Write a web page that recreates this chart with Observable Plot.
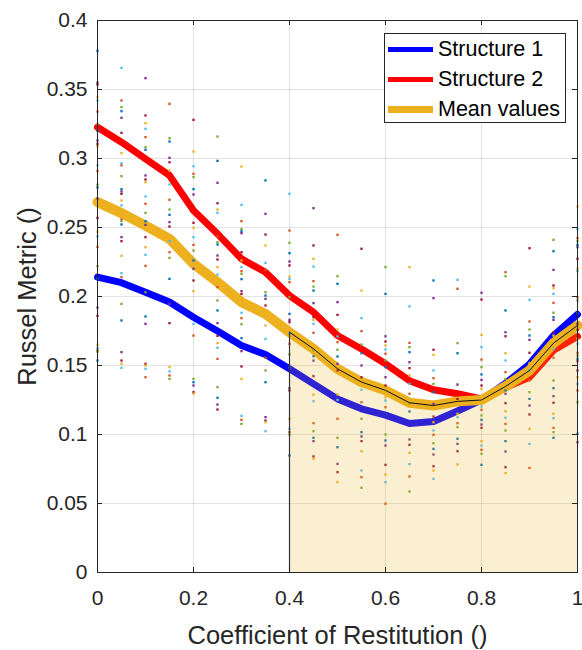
<!DOCTYPE html>
<html><head><meta charset="utf-8">
<script src="https://cdn.jsdelivr.net/npm/d3@7"></script>
<script src="https://cdn.jsdelivr.net/npm/@observablehq/plot@0.6"></script>
<style>
body{margin:0;background:#fff;font-family:"Liberation Sans",Arial,sans-serif;}
#wrap{position:relative;width:582px;height:650px;}
#legend{position:absolute;left:384px;top:33px;width:182px;height:90px;box-sizing:border-box;background:#fff;border:1px solid #262626;}
.row{position:absolute;left:3px;height:30px;line-height:30px;font-size:21.5px;color:#000;white-space:nowrap;display:flex;align-items:center;}
.sw{display:inline-block;width:45px;margin-right:5px;}
</style></head><body>
<div id="wrap"><div id="chart"></div><div id="legend"></div></div>
<script>
// ---- data ----
const xs = [0,0.05,0.1,0.15,0.2,0.25,0.3,0.35,0.4,0.45,0.5,0.55,0.6,0.65,0.7,0.75,0.8,0.85,0.9,0.95,1];
const struct1 = [0.214,0.210,0.203,0.196,0.185,0.175,0.1645,0.158,0.1476,0.1367,0.1258,0.1186,0.114,0.108,0.1094,0.117,0.125,0.137,0.151,0.1717,0.187];
const struct2 = [0.3227,0.3118,0.2998,0.2877,0.2623,0.2454,0.2273,0.2176,0.2007,0.1886,0.1717,0.162,0.1512,0.139,0.1324,0.1295,0.1258,0.134,0.1415,0.161,0.171];
const meanVals = [0.2684,0.2604,0.2514,0.2418,0.2237,0.2104,0.1959,0.1874,0.1741,0.1621,0.1476,0.138,0.132,0.123,0.121,0.124,0.125,0.1348,0.1464,0.1662,0.179];
const shadeStart = 0.4;
const seriesNames = ["Structure 1","Structure 2","Mean values"];
const xTicks = [0,0.2,0.4,0.6,0.8,1];
const yTicks = [0,0.05,0.1,0.15,0.2,0.25,0.3,0.35,0.4];
const xTitle = "Coefficient of Restitution ()";
const yTitle = "Russel Metric ()";

// scattered samples, one list per x column
const c00 = [0.378,0.355,0.3536,0.3444,0.342,0.334,0.325,0.320,0.313,0.3106,0.309,0.295,0.291,0.281,0.279,0.271,0.257,0.247,0.2435,0.236,0.222,0.213,0.192,0.186,0.165,0.1626,0.161,0.160,0.1536];
const c05 = [0.3657,0.342,0.3372,0.3343,0.3295,0.3186,0.3039,0.2966,0.295,0.2872,0.2778,0.2761,0.2744,0.2696,0.266,0.2558,0.2546,0.2522,0.243,0.2401,0.2295,0.2169,0.214,0.1947,0.1826,0.1597,0.1536,0.1512,0.1483];
const c10 = [0.3582,0.3312,0.3256,0.3215,0.3155,0.3082,0.3063,0.2877,0.2848,0.2828,0.2725,0.2672,0.2606,0.2546,0.2519,0.243,0.2357,0.2302,0.2222,0.2031,0.1855,0.1802,0.1512,0.15,0.1476,0.1415];
const c15 = [0.3396,0.3147,0.3123,0.3005,0.2973,0.2913,0.2812,0.2701,0.263,0.2592,0.2539,0.2507,0.243,0.2401,0.2321,0.228,0.2128,0.1947,0.1807,0.1488,0.1457,0.1428,0.1403];
const c20 = [0.328,0.3051,0.2944,0.2889,0.2865,0.2778,0.2739,0.2534,0.2498,0.243,0.2374,0.2333,0.2261,0.2201,0.2116,0.2039,0.1802,0.1717,0.1403,0.1379,0.1355,0.1307,0.1295];
const c25 = [0.3159,0.2983,0.2824,0.2676,0.263,0.2606,0.2435,0.2394,0.2377,0.2297,0.2268,0.2213,0.2159,0.2068,0.1971,0.1899,0.1807,0.1715,0.1662,0.1628,0.1548,0.1343,0.1266,0.1217,0.1181];
const c30 = [0.2942,0.2664,0.2546,0.249,0.2473,0.2459,0.2321,0.2261,0.2213,0.2184,0.2164,0.2126,0.2039,0.2019,0.1983,0.1882,0.1843,0.1799,0.1698,0.1604,0.1493,0.1403,0.1135,0.1106,0.1077];
const c35 = [0.2841,0.2599,0.2449,0.237,0.2244,0.2193,0.2031,0.2007,0.1983,0.1935,0.179,0.1693,0.1556,0.1464,0.1379,0.1126,0.1101,0.1089,0.1024];
const c40 = [0.2744,0.2478,0.2389,0.2314,0.2254,0.2225,0.2145,0.2128,0.2104,0.1995,0.1874,0.1831,0.1814,0.1766,0.1734,0.1657,0.158,0.1488,0.1336,0.1319,0.1114,0.1041,0.1017,0.1,0.0848];
const c45 = [0.264,0.237,0.2273,0.2217,0.2111,0.2072,0.2043,0.1952,0.185,0.1831,0.1802,0.1737,0.1609,0.1567,0.1536,0.1423,0.1288,0.1241,0.1082,0.1024,0.0976,0.0952,0.0841,0.0824];
const c50 = [0.2447,0.2147,0.2092,0.1959,0.1867,0.1761,0.171,0.1669,0.1614,0.1565,0.1512,0.1464,0.129,0.1251,0.1114,0.0976,0.0908,0.0787,0.0727,0.0655];
const c55 = [0.2346,0.2043,0.1843,0.1749,0.1652,0.1589,0.15,0.1415,0.1386,0.1324,0.1234,0.1114,0.1017,0.0986,0.0952,0.0879,0.0739,0.0691,0.0614];
const c60 = [0.2213,0.2019,0.1712,0.1674,0.1645,0.1616,0.1585,0.1536,0.1488,0.1415,0.1355,0.127,0.1246,0.1198,0.1,0.0957,0.092,0.078,0.071,0.0655,0.0498];
const c65 = [0.2213,0.1928,0.1664,0.1633,0.1597,0.1524,0.1481,0.1428,0.1367,0.1295,0.1227,0.1167,0.0964,0.0925,0.0867,0.0785,0.0696,0.0587];
const c70 = [0.2116,0.1988,0.1614,0.1577,0.1464,0.1408,0.1367,0.1307,0.1222,0.113,0.1089,0.1029,0.0998,0.0937,0.0896,0.0855,0.077,0.0739,0.0679];
const c75 = [0.2121,0.2056,0.1662,0.1589,0.1362,0.1258,0.115,0.1126,0.1082,0.1053,0.0969,0.0932,0.0879,0.0783];
const c80 = [0.2027,0.1978,0.1722,0.1633,0.1543,0.1488,0.1435,0.1396,0.1355,0.1331,0.1203,0.1179,0.1138,0.1106,0.1072,0.1048,0.0952,0.092,0.0889,0.086,0.078];
const c85 = [0.2176,0.2147,0.1899,0.1741,0.1712,0.1589,0.1536,0.1452,0.1403,0.1319,0.1295,0.1227,0.1169,0.1121,0.1077,0.1029,0.0952,0.0877,0.0763,0.072];
const c90 = [0.235,0.2072,0.1976,0.1819,0.1761,0.1717,0.1686,0.1592,0.1517,0.1464,0.1391,0.1307,0.1258,0.121,0.1145,0.1041,0.0932,0.0758];
const c95 = [0.2411,0.2328,0.2193,0.208,0.206,0.2019,0.1954,0.1882,0.185,0.1831,0.1741,0.1717,0.1621,0.1556,0.1391,0.1336,0.1278,0.123,0.115,0.1118,0.1048,0.1017,0.0976];
const c100 = [0.2652,0.2488,0.2423,0.2401,0.2374,0.2357,0.2273,0.2201,0.2184,0.1995,0.1971,0.1879,0.1802,0.1759,0.1693,0.1657,0.1592,0.1572,0.1548,0.1531,0.1464,0.1415,0.1367,0.1319,0.1234,0.1005,0.0944];
const columns = [c00,c05,c10,c15,c20,c25,c30,c35,c40,c45,c50,c55,c60,c65,c70,c75,c80,c85,c90,c95,c100];

// ---- styling ----
const palette = ["#0072BD","#D95319","#EDB120","#7E2F8E","#77AC30","#4DBEEE","#A2142F"];
const seriesColors = ["#0000FF","#FF0000","#EDB120"];
const W = 582, H = 650, ML = 97, MR = 5, MT = 20, MB = 78;
const plotW = W - ML - MR, plotH = H - MT - MB, TICK = 5;
const axisColor = "#262626";

const lineData = xs.map((x, i) => ({x, s1: struct1[i], s2: struct2[i], m: meanVals[i]}));
const shaded = lineData.filter(d => d.x >= shadeStart);
const dots = columns.flatMap((vals, j) => vals.map((v, k) => ({x: xs[j], y: v, c: palette[(k * 3 + j * 5) % 7]})));

const chart = Plot.plot({
  width: W, height: H,
  marginLeft: ML, marginRight: MR, marginTop: MT, marginBottom: MB,
  x: {domain: [0, 1]},
  y: {domain: [0, 0.4]},
  color: {type: "identity"},
  style: {fontFamily: "'Liberation Sans', Arial, sans-serif", fontSize: "21px", color: axisColor, background: "white", overflow: "visible"},
  marks: [
    Plot.gridX(xTicks, {stroke: axisColor, strokeOpacity: 0.13, strokeWidth: 1}),
    Plot.gridY(yTicks, {stroke: axisColor, strokeOpacity: 0.13, strokeWidth: 1}),
    Plot.line(lineData, {x: "x", y: "s1", stroke: seriesColors[0], strokeWidth: 7, strokeLinejoin: "round"}),
    Plot.line(lineData, {x: "x", y: "s2", stroke: seriesColors[1], strokeWidth: 7, strokeLinejoin: "round"}),
    Plot.line(lineData, {x: "x", y: "m", stroke: seriesColors[2], strokeWidth: 10, strokeLinejoin: "round"}),
    Plot.dot(dots, {x: "x", y: "y", fill: "c", r: 1.3, symbol: "square"}),
    Plot.areaY(shaded, {x: "x", y: "m", fill: seriesColors[2], fillOpacity: 0.2}),
    Plot.line(shaded, {x: "x", y: "m", stroke: "#111", strokeWidth: 1}),
    Plot.ruleX(shaded.slice(0, 1), {x: "x", y1: 0, y2: "m", stroke: "#333", strokeWidth: 1.2}),
    Plot.frame({stroke: axisColor, strokeWidth: 1}),
    Plot.tickX(xTicks, {x: d => d, stroke: axisColor, insetTop: plotH - TICK}),
    Plot.tickX(xTicks, {x: d => d, stroke: axisColor, insetBottom: plotH - TICK}),
    Plot.tickY(yTicks, {y: d => d, stroke: axisColor, insetRight: plotW - TICK}),
    Plot.tickY(yTicks, {y: d => d, stroke: axisColor, insetLeft: plotW - TICK}),
    Plot.axisX(xTicks, {tickSize: 0, tickPadding: 18, tickFormat: d => String(d), fontSize: 21, fill: axisColor, label: null}),
    Plot.axisY(yTicks, {tickSize: 0, tickPadding: 10, tickFormat: d => String(d), fontSize: 21, fill: axisColor, label: null}),
    Plot.text([xTitle], {frameAnchor: "bottom", dy: 63, lineAnchor: "middle", textAnchor: "middle", fontSize: 25.5, fill: axisColor}),
    Plot.text([yTitle], {frameAnchor: "left", dx: -70, rotate: -90, textAnchor: "middle", lineAnchor: "middle", fontSize: 25.5, fill: axisColor})
  ]
});
document.getElementById("chart").appendChild(chart);

// legend
const legend = document.getElementById("legend");
const rowTops = [0, 30, 60];
seriesNames.forEach((name, i) => {
  const row = document.createElement("div");
  row.className = "row";
  row.style.top = rowTops[i] + "px";
  const sw = document.createElement("span");
  sw.className = "sw";
  sw.style.height = (i === 2 ? 7 : 5) + "px";
  sw.style.background = seriesColors[i];
  row.appendChild(sw);
  row.appendChild(document.createTextNode(name));
  legend.appendChild(row);
});
</script>
</body></html>
